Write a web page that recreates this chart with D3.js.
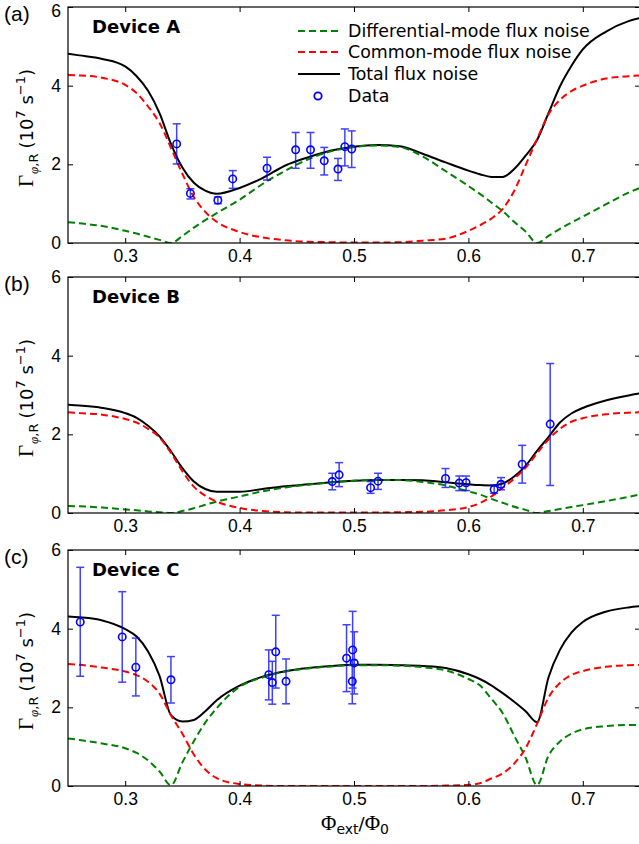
<!DOCTYPE html>
<html>
<head>
<meta charset="utf-8">
<script src="https://cdn.jsdelivr.net/npm/d3@7"></script>
<style>
  body { margin: 0; background: #fff; }
  svg { display: block; }
</style>
</head>
<body>
<svg id="chart" width="639" height="844"></svg>
<script>
// sample positions of the model curves (Phi_ext / Phi_0)
var flux = [0.25, 0.26, 0.28, 0.30, 0.31, 0.32, 0.33, 0.34, 0.35, 0.36, 0.37, 0.38,
  0.40, 0.42, 0.44, 0.46, 0.48, 0.50, 0.52, 0.54, 0.56, 0.58, 0.60, 0.61, 0.62,
  0.63, 0.64, 0.65, 0.66, 0.67, 0.68, 0.69, 0.70, 0.72, 0.74, 0.75];

// Device A
var diffA = [0.53, 0.50, 0.43, 0.31, 0.24, 0.16, 0.08, 0.00, 0.18, 0.39, 0.58, 0.76,
  1.10, 1.50, 1.84, 2.13, 2.33, 2.44, 2.48, 2.44, 2.20, 1.83, 1.45, 1.25, 1.03,
  0.81, 0.54, 0.29, 0.00, 0.18, 0.36, 0.52, 0.67, 0.98, 1.28, 1.40];
var commonA = [4.27, 4.26, 4.20, 4.02, 3.81, 3.47, 3.05, 2.42, 1.76, 1.17, 0.79, 0.54,
  0.28, 0.14, 0.07, 0.03, 0.02, 0.01, 0.01, 0.02, 0.06, 0.11, 0.31, 0.45, 0.62,
  0.87, 1.32, 1.98, 2.64, 3.27, 3.64, 3.86, 4.00, 4.18, 4.24, 4.26];
var totalA = [4.81, 4.77, 4.68, 4.49, 4.24, 3.87, 3.30, 2.52, 1.92, 1.53, 1.33, 1.25,
  1.40, 1.65, 1.97, 2.18, 2.35, 2.45, 2.49, 2.46, 2.27, 2.05, 1.84, 1.75, 1.68,
  1.68, 1.88, 2.22, 2.62, 3.30, 3.98, 4.50, 4.92, 5.37, 5.64, 5.72];
var ptsAx = [0.345, 0.357, 0.381, 0.394, 0.424, 0.449, 0.462, 0.474, 0.486, 0.492, 0.498];
var ptsAy = [2.52, 1.26, 1.09, 1.63, 1.90, 2.37, 2.37, 2.09, 1.88, 2.45, 2.39];
var ptsAlo = [2.01, 1.12, 1.00, 1.39, 1.60, 1.90, 1.90, 1.73, 1.59, 1.96, 1.92];
var ptsAhi = [3.03, 1.38, 1.17, 1.84, 2.18, 2.81, 2.81, 2.43, 2.15, 2.90, 2.85];

// Device B
var diffB = [0.18, 0.17, 0.14, 0.09, 0.07, 0.04, 0.02, 0.00, 0.05, 0.12, 0.21, 0.29,
  0.42, 0.55, 0.65, 0.72, 0.78, 0.82, 0.84, 0.84, 0.79, 0.70, 0.55, 0.47, 0.36,
  0.26, 0.16, 0.08, 0.00, 0.05, 0.10, 0.15, 0.20, 0.30, 0.41, 0.47];
var commonB = [2.56, 2.54, 2.50, 2.39, 2.30, 2.14, 1.92, 1.53, 1.06, 0.67, 0.44, 0.29,
  0.13, 0.05, 0.02, 0.01, 0.01, 0.01, 0.01, 0.02, 0.03, 0.07, 0.15, 0.25, 0.42,
  0.64, 0.87, 1.15, 1.52, 1.87, 2.14, 2.32, 2.41, 2.51, 2.55, 2.56];
var totalB = [2.75, 2.73, 2.67, 2.54, 2.42, 2.22, 1.95, 1.57, 1.14, 0.80, 0.61, 0.54,
  0.54, 0.61, 0.68, 0.73, 0.78, 0.82, 0.84, 0.84, 0.83, 0.78, 0.73, 0.71, 0.70,
  0.75, 0.93, 1.20, 1.58, 1.93, 2.30, 2.53, 2.67, 2.86, 2.99, 3.04];
var ptsBx = [0.481, 0.487, 0.5145, 0.521, 0.580, 0.592, 0.598, 0.6225, 0.6285, 0.647, 0.6715];
var ptsBy = [0.80, 0.97, 0.645, 0.81, 0.88, 0.76, 0.77, 0.60, 0.73, 1.24, 2.26];
var ptsBlo = [0.59, 0.67, 0.50, 0.60, 0.65, 0.57, 0.57, 0.50, 0.59, 0.76, 0.70];
var ptsBhi = [1.01, 1.28, 0.80, 1.01, 1.13, 0.94, 0.94, 0.71, 0.90, 1.72, 3.80];

// Device C
var diffC = [1.21, 1.17, 1.08, 0.96, 0.84, 0.65, 0.37, 0.02, 0.60, 1.14, 1.61, 1.98,
  2.52, 2.76, 2.91, 2.99, 3.04, 3.07, 3.07, 3.06, 3.02, 2.94, 2.72, 2.56, 2.22,
  1.85, 1.28, 0.72, 0.02, 0.77, 1.13, 1.33, 1.44, 1.52, 1.55, 1.55];
var commonC = [3.10, 3.08, 3.01, 2.91, 2.82, 2.65, 2.35, 1.80, 1.33, 0.80, 0.42, 0.20,
  0.05, 0.01, 0.00, 0.00, 0.00, 0.00, 0.00, 0.00, 0.00, 0.01, 0.03, 0.07, 0.19,
  0.32, 0.57, 0.96, 1.58, 2.25, 2.62, 2.82, 2.92, 3.03, 3.07, 3.08];
var totalC = [4.31, 4.29, 4.21, 3.99, 3.80, 3.42, 2.80, 1.80, 1.64, 1.68, 1.90, 2.18,
  2.55, 2.78, 2.92, 3.00, 3.05, 3.08, 3.08, 3.07, 3.05, 3.00, 2.84, 2.72, 2.56,
  2.36, 2.14, 1.90, 1.62, 2.76, 3.46, 3.90, 4.17, 4.43, 4.54, 4.57];
var ptsCx = [0.2607, 0.2974, 0.3093, 0.340, 0.4255, 0.4286, 0.4316, 0.4406, 0.4935, 0.4988, 0.5002, 0.4985];
var ptsCy = [4.17, 3.79, 3.02, 2.70, 2.83, 2.63, 3.41, 2.66, 3.25, 3.46, 3.13, 2.66];
var ptsClo = [2.79, 2.64, 2.29, 2.11, 2.19, 2.08, 2.49, 2.09, 2.40, 2.49, 2.34, 2.09];
var ptsChi = [5.56, 4.94, 3.76, 3.29, 3.46, 3.17, 4.34, 3.23, 4.10, 4.44, 3.92, 3.20];

var xTicks = [0.3, 0.4, 0.5, 0.6, 0.7];
var yTicks = [0, 2, 4, 6];
var legendLabels = ["Differential-mode flux noise", "Common-mode flux noise", "Total flux noise", "Data"];

var GREEN = "#008000", RED = "#ff0000", BLUE = "#0000ff";
var left = 68, right = 640, ph = 236;
var tickFont = "'Liberation Sans', Arial, sans-serif";
var textFont = "'DejaVu Sans', sans-serif";
var serif = "'Liberation Serif', 'DejaVu Serif', serif";

var panels = [
  { tag: "(a)", name: "Device A", top: 7, diff: diffA, common: commonA, total: totalA,
    px: ptsAx, py: ptsAy, lo: ptsAlo, hi: ptsAhi },
  { tag: "(b)", name: "Device B", top: 277, diff: diffB, common: commonB, total: totalB,
    px: ptsBx, py: ptsBy, lo: ptsBlo, hi: ptsBhi },
  { tag: "(c)", name: "Device C", top: 550, diff: diffC, common: commonC, total: totalC,
    px: ptsCx, py: ptsCy, lo: ptsClo, hi: ptsChi }
];

var svg = d3.select("#chart");
var x = d3.scaleLinear().domain([0.25, 0.75]).range([left, right]);

panels.forEach(function(p, k) {
  var y = d3.scaleLinear().domain([0, 6]).range([p.top + ph, p.top]);
  var g = svg.append("g");

  g.append("clipPath").attr("id", "clip" + k)
    .append("rect").attr("x", left).attr("y", p.top)
    .attr("width", right - left).attr("height", ph);

  var plot = g.append("g").attr("clip-path", "url(#clip" + k + ")");

  var line = d3.line()
    .x(function(d) { return x(d[0]); })
    .y(function(d) { return y(d[1]); })
    .curve(d3.curveMonotoneX);
  function pairs(vals) { return flux.map(function(f, i) { return [f, vals[i]]; }); }

  plot.append("path").attr("d", line(pairs(p.total)))
    .attr("fill", "none").attr("stroke", "#000").attr("stroke-width", 2);
  plot.append("path").attr("d", line(pairs(p.diff)))
    .attr("fill", "none").attr("stroke", GREEN).attr("stroke-width", 2)
    .attr("stroke-dasharray", "7,4");
  plot.append("path").attr("d", line(pairs(p.common)))
    .attr("fill", "none").attr("stroke", RED).attr("stroke-width", 2)
    .attr("stroke-dasharray", "7,4");

  // error bars + open circles
  var pts = p.px.map(function(v, i) { return { x: v, y: p.py[i], lo: p.lo[i], hi: p.hi[i] }; });
  var eb = plot.append("g").attr("stroke", BLUE).attr("stroke-width", 1.5).attr("opacity", 0.75);
  eb.selectAll(".bar").data(pts).enter().append("line")
    .attr("x1", function(d) { return x(d.x); }).attr("x2", function(d) { return x(d.x); })
    .attr("y1", function(d) { return y(d.lo); }).attr("y2", function(d) { return y(d.hi); });
  ["lo", "hi"].forEach(function(key) {
    eb.selectAll(".cap" + key).data(pts).enter().append("line")
      .attr("x1", function(d) { return x(d.x) - 4; }).attr("x2", function(d) { return x(d.x) + 4; })
      .attr("y1", function(d) { return y(d[key]); }).attr("y2", function(d) { return y(d[key]); });
  });
  plot.selectAll(".pt").data(pts).enter().append("circle")
    .attr("cx", function(d) { return x(d.x); }).attr("cy", function(d) { return y(d.y); })
    .attr("r", 3.7).attr("fill", "none").attr("stroke", BLUE).attr("stroke-width", 1.6);

  // axes, ticks pointing inward
  g.append("g").attr("transform", "translate(0," + (p.top + ph) + ")")
    .call(d3.axisBottom(x).tickValues(xTicks).tickSize(-5).tickSizeOuter(0).tickPadding(7)
      .tickFormat(d3.format(".1f")));
  g.append("g").attr("transform", "translate(0," + p.top + ")")
    .call(d3.axisTop(x).tickValues(xTicks).tickSize(-5).tickSizeOuter(0).tickFormat(""));
  var ay = g.append("g").attr("transform", "translate(" + left + ",0)")
    .call(d3.axisLeft(y).tickValues(yTicks).tickSize(-5).tickSizeOuter(0).tickPadding(7)
      .tickFormat(d3.format("d")));
  g.append("g").attr("transform", "translate(" + right + ",0)")
    .call(d3.axisRight(y).tickValues(yTicks).tickSize(-5).tickSizeOuter(0).tickFormat(""));
  g.selectAll(".domain").remove();
  g.selectAll(".tick line").attr("stroke", "#000").attr("stroke-width", 1);
  g.selectAll(".tick text").attr("font-family", tickFont).attr("font-size", 17.5).attr("fill", "#000");
  // the top label of the first panel sits a little lower, as in the original
  if (k === 0) {
    ay.selectAll(".tick text").filter(function(d) { return d === 6; }).attr("dy", "0.55em");
  }

  g.append("rect").attr("x", left).attr("y", p.top).attr("width", right - left).attr("height", ph)
    .attr("fill", "none").attr("stroke", "#000").attr("stroke-width", 1.2);

  g.append("text").attr("x", 4).attr("y", p.top + 14)
    .attr("font-family", tickFont).attr("font-size", 21).text(p.tag);
  g.append("text").attr("x", 92).attr("y", p.top + 26)
    .attr("font-family", textFont).attr("font-weight", "bold").attr("font-size", 18).text(p.name);

  // y label
  var yl = g.append("text")
    .attr("transform", "translate(33," + (p.top + ph / 2 + 3) + ") rotate(-90)")
    .attr("text-anchor", "middle").attr("font-family", textFont).attr("font-size", 18);
  yl.append("tspan").attr("font-family", serif).attr("font-size", 21).text("\u0393");
  var sub = yl.append("tspan").attr("font-size", 13).attr("dy", 5).attr("dx", 1);
  sub.append("tspan").attr("font-family", serif).attr("font-style", "italic").text("\u03c6");
  sub.append("tspan").text(",R");
  yl.append("tspan").attr("dy", -5).attr("dx", 5).text("(10");
  yl.append("tspan").attr("font-size", 13).attr("dy", -8).text("7");
  yl.append("tspan").attr("dy", 8).text(" s");
  yl.append("tspan").attr("font-size", 13).attr("dy", -8).text("\u22121");
  yl.append("tspan").attr("dy", 8).text(")");

  if (k === 0) {
    var styles = [
      { stroke: GREEN, dash: "7,4" },
      { stroke: RED, dash: "7,4" },
      { stroke: "#000", dash: null }
    ];
    var rowY = [31, 52, 74, 96];
    legendLabels.forEach(function(lab, i) {
      if (i < 3) {
        g.append("line").attr("x1", 298).attr("x2", 340).attr("y1", rowY[i]).attr("y2", rowY[i])
          .attr("stroke", styles[i].stroke).attr("stroke-width", 2)
          .attr("stroke-dasharray", styles[i].dash);
      } else {
        g.append("circle").attr("cx", 318).attr("cy", rowY[i]).attr("r", 3.7)
          .attr("fill", "none").attr("stroke", BLUE).attr("stroke-width", 1.8);
      }
      g.append("text").attr("x", 348).attr("y", rowY[i] + 6)
        .attr("font-family", textFont).attr("font-size", 17.4).text(lab);
    });
  }
});

// x label
var xl = svg.append("text").attr("x", 355).attr("y", 830).attr("text-anchor", "middle")
  .attr("font-family", textFont).attr("font-size", 18);
xl.append("tspan").attr("font-family", serif).attr("font-size", 21).text("\u03a6");
xl.append("tspan").attr("font-size", 14).attr("dy", 4).text("ext");
xl.append("tspan").attr("dy", -4).text("/");
xl.append("tspan").attr("font-family", serif).attr("font-size", 21).text("\u03a6");
xl.append("tspan").attr("font-size", 14).attr("dy", 4).text("0");
</script>
</body>
</html>
